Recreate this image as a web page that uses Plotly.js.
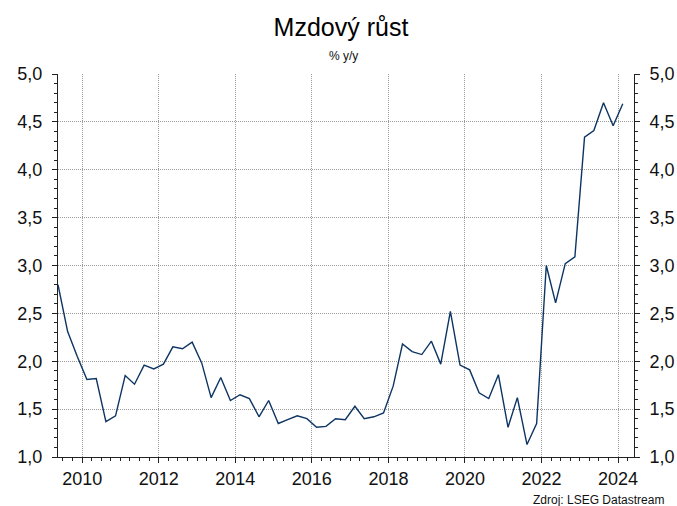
<!DOCTYPE html>
<html>
<head>
<meta charset="utf-8">
<script src="https://cdn.plot.ly/plotly-3.0.1.min.js"></script>
<style>
  html, body { margin: 0; padding: 0; background: #ffffff; }
  #chart { width: 677px; height: 506px; }
</style>
</head>
<body>
<div id="chart"></div>
<script>
// Quarterly wage growth, % y/y, dated at mid-quarter (Q2 2009 - Q1 2024)
const quarters = [
  "2009-05-15","2009-08-15","2009-11-15",
  "2010-02-15","2010-05-15","2010-08-15","2010-11-15",
  "2011-02-15","2011-05-15","2011-08-15","2011-11-15",
  "2012-02-15","2012-05-15","2012-08-15","2012-11-15",
  "2013-02-15","2013-05-15","2013-08-15","2013-11-15",
  "2014-02-15","2014-05-15","2014-08-15","2014-11-15",
  "2015-02-15","2015-05-15","2015-08-15","2015-11-15",
  "2016-02-15","2016-05-15","2016-08-15","2016-11-15",
  "2017-02-15","2017-05-15","2017-08-15","2017-11-15",
  "2018-02-15","2018-05-15","2018-08-15","2018-11-15",
  "2019-02-15","2019-05-15","2019-08-15","2019-11-15",
  "2020-02-15","2020-05-15","2020-08-15","2020-11-15",
  "2021-02-15","2021-05-15","2021-08-15","2021-11-15",
  "2022-02-15","2022-05-15","2022-08-15","2022-11-15",
  "2023-02-15","2023-05-15","2023-08-15","2023-11-15",
  "2024-02-15"
];

const wageGrowth = [
  2.80, 2.31, 2.05,
  1.81, 1.82, 1.37, 1.43,
  1.85, 1.76, 1.96, 1.92,
  1.97, 2.15, 2.13, 2.20,
  1.98, 1.62, 1.83, 1.59,
  1.65, 1.61, 1.42, 1.59,
  1.35, 1.39, 1.43, 1.40,
  1.31, 1.32, 1.40, 1.39,
  1.53, 1.40, 1.42, 1.46,
  1.74, 2.18, 2.10, 2.07,
  2.21, 1.97, 2.52, 1.96,
  1.91, 1.67, 1.61, 1.86,
  1.31, 1.62, 1.13, 1.35,
  3.00, 2.61, 3.02, 3.09,
  4.34, 4.41, 4.70, 4.46,
  4.69
];

const chartTitle = "Mzdový růst";
const unitLabel = "% y/y";
const sourceLabel = "Zdroj: LSEG Datastream";
const yTickValues = [1.0, 1.5, 2.0, 2.5, 3.0, 3.5, 4.0, 4.5, 5.0];

const FONT = "Liberation Sans, Arial, Helvetica, sans-serif";
const LINE_COLOR = "#0d3563";
const GRID_COLOR = "#9c9c9c";
const AXIS_COLOR = "#222222";
const TICK_FONT = { family: FONT, size: 18, color: "#111111" };

const traces = [
  {
    x: quarters,
    y: wageGrowth,
    type: "scatter",
    mode: "lines",
    line: { color: LINE_COLOR, width: 1.4 },
    hoverinfo: "x+y",
    xaxis: "x",
    yaxis: "y"
  },
  {
    // carries the right-hand value axis
    x: quarters,
    y: wageGrowth,
    type: "scatter",
    mode: "lines",
    line: { color: LINE_COLOR, width: 0 },
    opacity: 0,
    hoverinfo: "skip",
    showlegend: false,
    xaxis: "x",
    yaxis: "y2"
  }
];

const yCommon = {
  range: [1.0, 5.0],
  tickmode: "array",
  tickvals: yTickValues,
  tickformat: ".1f",
  ticks: "outside",
  ticklen: 5,
  tickwidth: 1,
  tickcolor: AXIS_COLOR,
  ticklabelstandoff: 6,
  showline: true,
  linecolor: AXIS_COLOR,
  linewidth: 1,
  zeroline: false,
  tickfont: TICK_FONT,
  minor: {
    dtick: 0.1,
    tick0: 1.0,
    ticks: "outside",
    ticklen: 3,
    tickwidth: 1,
    tickcolor: AXIS_COLOR,
    showgrid: false
  }
};

const layout = {
  width: 677,
  height: 506,
  margin: { l: 58, r: 43, t: 74, b: 49, pad: 0 },
  paper_bgcolor: "#ffffff",
  plot_bgcolor: "#ffffff",
  separators: ",\u00a0",
  showlegend: false,
  font: { family: FONT, color: "#111111" },
  title: {
    text: chartTitle,
    font: { family: FONT, size: 25, color: "#000000" },
    x: 341 / 677,
    xanchor: "center",
    xref: "container",
    y: 1 - 27 / 506,
    yanchor: "middle",
    yref: "container"
  },
  xaxis: {
    type: "date",
    range: ["2009-05-15", "2024-06-01"],
    tick0: "2010-01-01",
    dtick: "M24",
    tickformat: "%Y",
    ticks: "outside",
    ticklen: 5,
    tickwidth: 1,
    tickcolor: AXIS_COLOR,
    showline: true,
    linecolor: AXIS_COLOR,
    linewidth: 1,
    showgrid: true,
    gridcolor: GRID_COLOR,
    gridwidth: 1,
    griddash: "1px,1px",
    zeroline: false,
    tickfont: TICK_FONT,
    minor: {
      dtick: "M3",
      tick0: "2010-01-01",
      ticks: "outside",
      ticklen: 3,
      tickwidth: 1,
      tickcolor: AXIS_COLOR,
      showgrid: false
    }
  },
  yaxis: Object.assign({}, yCommon, {
    side: "left",
    showgrid: true,
    gridcolor: GRID_COLOR,
    gridwidth: 1,
    griddash: "1px,1px"
  }),
  yaxis2: Object.assign({}, yCommon, {
    side: "right",
    overlaying: "y",
    anchor: "x",
    showgrid: false
  }),
  annotations: [
    {
      text: unitLabel,
      xref: "paper", yref: "paper",
      x: (343 - 58) / 576, y: (456.7 - 56) / 382.7,
      xanchor: "center", yanchor: "middle",
      showarrow: false,
      font: { family: FONT, size: 12, color: "#111111" }
    },
    {
      text: sourceLabel,
      xref: "paper", yref: "paper",
      x: (666 - 58) / 576, y: (456.7 - 500) / 382.7,
      xanchor: "right", yanchor: "middle",
      showarrow: false,
      font: { family: FONT, size: 12, color: "#111111" }
    }
  ]
};

Plotly.newPlot("chart", traces, layout, { displayModeBar: false, staticPlot: true });
</script>
</body>
</html>
